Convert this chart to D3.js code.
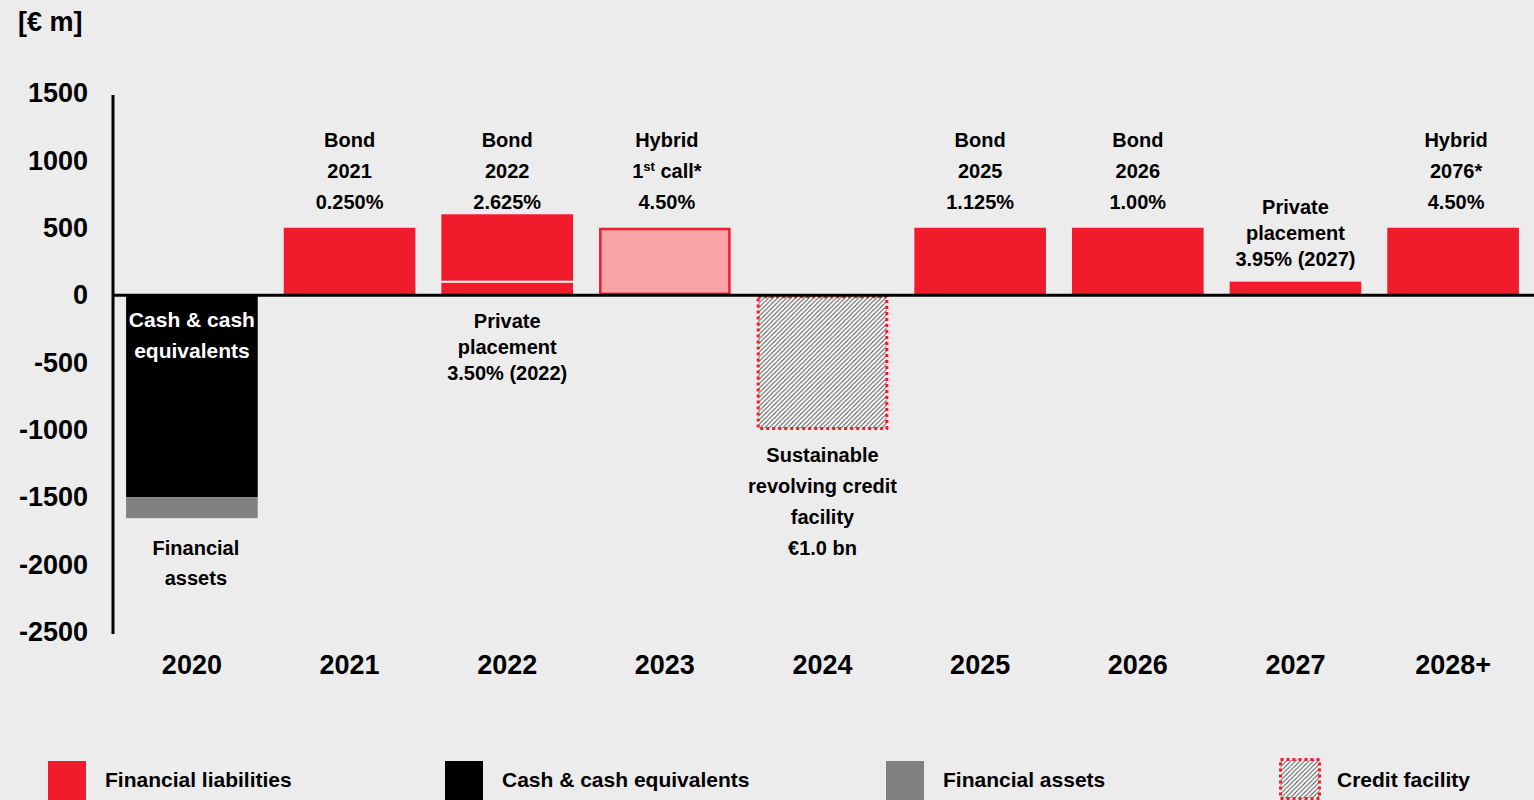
<!DOCTYPE html>
<html>
<head>
<meta charset="utf-8">
<script src="https://cdn.jsdelivr.net/npm/d3@7"></script>
<style>
  body { margin: 0; background: #ececec; }
  svg { display: block; }
  text { font-family: "Liberation Sans", Arial, sans-serif; font-weight: bold; }
</style>
</head>
<body>
<svg width="1534" height="800"></svg>
<script>
// maturity profile, values in EUR m
var years = ["2020", "2021", "2022", "2023", "2024", "2025", "2026", "2027", "2028+"];
var privatePlacement = [0, 0, 100, 0, 0, 0, 0, 100, 0];
var bonds = [0, 500, 500, 0, 0, 500, 500, 0, 500];
var hybridCall = [0, 0, 0, 500, 0, 0, 0, 0, 0];
var cash = [-1500, 0, 0, 0, 0, 0, 0, 0, 0];
var financialAssets = [-155, 0, 0, 0, 0, 0, 0, 0, 0];
var creditFacility = [0, 0, 0, 0, -1000, 0, 0, 0, 0];
var yTicks = [1500, 1000, 500, 0, -500, -1000, -1500, -2000, -2500];

var topLabels = [
  { year: "2021", lines: ["Bond", "2021", "0.250%"] },
  { year: "2022", lines: ["Bond", "2022", "2.625%"] },
  { year: "2023", lines: ["Hybrid", "1|st| call*", "4.50%"] },
  { year: "2025", lines: ["Bond", "2025", "1.125%"] },
  { year: "2026", lines: ["Bond", "2026", "1.00%"] },
  { year: "2028+", lines: ["Hybrid", "2076*", "4.50%"] }
];
var legendNames = ["Financial liabilities", "Cash & cash equivalents", "Financial assets", "Credit facility"];

var red = "#f01c2c", pink = "#f9a3a8", grey = "#808080";

var svg = d3.select("svg");
var defs = svg.append("defs");
var pat = defs.append("pattern").attr("id", "hatch")
  .attr("patternUnits", "userSpaceOnUse").attr("width", 4.5).attr("height", 4.5);
pat.append("rect").attr("width", 4.5).attr("height", 4.5).attr("fill", "#fff");
pat.append("path").attr("d", "M-1,1 l2,-2 M0,4.5 l4.5,-4.5 M3.5,5.5 l2,-2")
  .attr("stroke", "#555").attr("stroke-width", 1.1);

var x = d3.scaleBand().domain(years).range([113, 1532]).paddingInner(0.165).paddingOuter(0.083);
var y = d3.scaleLinear().domain([-2500, 1500]).range([632, 93]);

var table = years.map(function(yr, i) {
  return { year: yr, pp: privatePlacement[i], bond: bonds[i], hybrid: hybridCall[i],
           cash: cash[i], fa: financialAssets[i], credit: creditFacility[i] };
});
var keys = ["pp", "bond", "hybrid", "cash", "fa", "credit"];
var series = d3.stack().keys(keys).offset(d3.stackOffsetDiverging)(table);

var style = {
  pp: { fill: red }, bond: { fill: red }, hybrid: { fill: pink, stroke: red, sw: 2.5 },
  cash: { fill: "#000" }, fa: { fill: grey }, credit: { fill: "url(#hatch)", stroke: red, sw: 3, dash: "3,3" }
};

series.forEach(function(s) {
  var st = style[s.key];
  var inset = st.stroke ? st.sw / 2 : 0;
  var g = svg.append("g");
  g.selectAll("rect").data(s.filter(function(d) { return d[0] !== d[1]; })).enter().append("rect")
    .attr("x", function(d) { return x(d.data.year) + inset; })
    .attr("width", x.bandwidth() - 2 * inset)
    .attr("y", function(d) { return y(Math.max(d[0], d[1])) + inset; })
    .attr("height", function(d) { return Math.abs(y(d[0]) - y(d[1])) - 2 * inset; })
    .attr("fill", st.fill)
    .attr("stroke", st.stroke || "none")
    .attr("stroke-width", st.sw || 0)
    .attr("stroke-dasharray", st.dash || null);
  // white seam where a bond sits on a private placement
  if (s.key === "bond") {
    g.selectAll("line").data(s.filter(function(d) { return d[0] > 0 && d[1] !== d[0]; })).enter().append("line")
      .attr("x1", function(d) { return x(d.data.year); })
      .attr("x2", function(d) { return x(d.data.year) + x.bandwidth(); })
      .attr("y1", function(d) { return y(d[0]); })
      .attr("y2", function(d) { return y(d[0]); })
      .attr("stroke", "#fff").attr("stroke-width", 2);
  }
});

// axes
var yAxis = svg.append("g").attr("transform", "translate(113,0)")
  .call(d3.axisLeft(y).tickValues(yTicks).tickSize(0).tickPadding(25).tickFormat(function(d) { return String(d); }));
yAxis.select(".domain").remove();
yAxis.selectAll("text").attr("font-size", 27).attr("fill", "#000")
  .style("font-family", "'Liberation Sans', Arial, sans-serif");
svg.append("line").attr("x1", 113).attr("x2", 113).attr("y1", y(1500) + 2).attr("y2", y(-2500) + 2)
  .attr("stroke", "#000").attr("stroke-width", 3);
svg.append("line").attr("x1", 113).attr("x2", 1534).attr("y1", y(0)).attr("y2", y(0))
  .attr("stroke", "#000").attr("stroke-width", 3);

svg.selectAll(".cat").data(years).enter().append("text")
  .attr("x", function(d) { return x(d) + x.bandwidth() / 2; })
  .attr("y", 665).attr("dy", "0.35em").attr("text-anchor", "middle")
  .attr("font-size", 27).text(function(d) { return d; });

svg.append("text").attr("x", 18).attr("y", 22).attr("dy", "0.35em").attr("font-size", 27).text("[€ m]");

// annotation helper
function block(cx, cy, lines, gap, color, size) {
  lines.forEach(function(line, i) {
    var t = svg.append("text").attr("x", cx).attr("y", cy + i * gap).attr("dy", "0.35em")
      .attr("text-anchor", "middle").attr("font-size", size || 20).attr("fill", color || "#000");
    var parts = line.split("|");
    parts.forEach(function(p, j) {
      if (j % 2 === 1) t.append("tspan").attr("font-size", 13).attr("baseline-shift", "super").text(p);
      else t.append("tspan").text(p);
    });
  });
}
function cx(yr) { return x(yr) + x.bandwidth() / 2; }

topLabels.forEach(function(l) {
  block(cx(l.year) + (l.year === "2028+" ? 3 : (l.year === "2023" ? 2 : 0)), y(1150), l.lines, 31);
});
block(cx("2027"), 207, ["Private", "placement", "3.95% (2027)"], 26);
block(cx("2022"), 321, ["Private", "placement", "3.50% (2022)"], 26);
block(cx("2020"), 320, ["Cash & cash", "equivalents"], 31, "#fff", 21);
block(cx("2020") + 4, 548, ["Financial", "assets"], 30);
block(cx("2024"), 455, ["Sustainable", "revolving credit", "facility", "€1.0 bn"], 31);

// legend
var legX = [48, 445, 886, 1279];
var legFill = [red, "#000", grey, "url(#hatch)"];
var leg = svg.selectAll(".leg").data(legendNames).enter().append("g");
leg.append("rect")
  .attr("x", function(d, i) { return legX[i] + (i === 3 ? 1.5 : 0); })
  .attr("y", function(d, i) { return i === 3 ? 759.5 : 761; })
  .attr("width", function(d, i) { return i === 3 ? 39 : 38; })
  .attr("height", 39)
  .attr("fill", function(d, i) { return legFill[i]; })
  .attr("stroke", function(d, i) { return i === 3 ? red : "none"; })
  .attr("stroke-width", 3).attr("stroke-dasharray", "3,3");
leg.append("text")
  .attr("x", function(d, i) { return legX[i] + (i === 3 ? 58 : 57); })
  .attr("y", 780).attr("dy", "0.35em").attr("font-size", 21)
  .text(function(d) { return d; });
</script>
</body>
</html>
